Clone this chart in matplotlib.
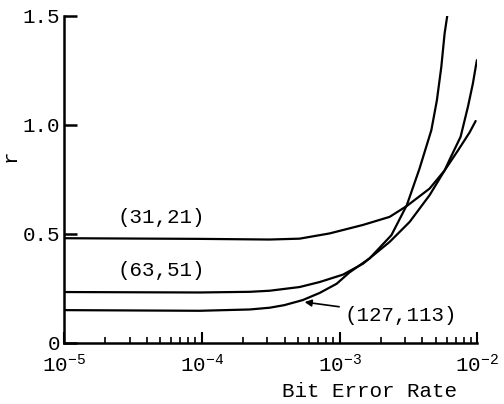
import numpy as np
import matplotlib
matplotlib.use('Agg')
import matplotlib.pyplot as plt

plt.rcParams['font.family'] = ['Liberation Mono', 'DejaVu Sans Mono']
plt.rcParams['mathtext.fontset'] = 'custom'
plt.rcParams['mathtext.rm'] = 'Liberation Mono'
plt.rcParams['mathtext.it'] = 'Liberation Mono'

# values (bit error rate, r)
ber_31 = [1.0e-5, 9.66e-5, 3.11e-4, 5.13e-4, 8.47e-4, 1.48e-3, 2.31e-3, 3.08e-3,
          4.51e-3, 5.79e-3, 7.21e-3, 8.80e-3, 9.73e-3]
r_31 = [0.479, 0.476, 0.473, 0.477, 0.501, 0.540, 0.577, 0.627,
        0.707, 0.790, 0.880, 0.965, 1.017]

ber_63 = [1.0e-5, 9.66e-5, 2.23e-4, 3.11e-4, 5.13e-4, 7.18e-4, 1.06e-3, 1.48e-3,
          2.31e-3, 3.23e-3, 4.51e-3, 5.79e-3, 6.30e-3, 7.57e-3, 8.55e-3, 9.29e-3, 9.93e-3]
r_63 = [0.232, 0.230, 0.233, 0.238, 0.255, 0.278, 0.312, 0.362,
        0.462, 0.554, 0.677, 0.790, 0.840, 0.945, 1.082, 1.189, 1.296]

ber_127 = [1.0e-5, 9.66e-5, 2.23e-4, 3.11e-4, 3.98e-4, 5.40e-4, 7.18e-4, 9.53e-4,
           1.18e-3, 1.65e-3, 2.38e-3, 3.08e-3, 3.81e-3, 4.64e-3, 5.09e-3, 5.48e-3,
           5.79e-3, 6.05e-3]
r_127 = [0.149, 0.146, 0.152, 0.160, 0.172, 0.195, 0.228, 0.270,
         0.322, 0.386, 0.493, 0.631, 0.799, 0.975, 1.112, 1.265,
         1.418, 1.499]

x_ticks = [1e-5, 1e-4, 1e-3, 1e-2]
x_labels = [r'$\mathregular{10^{-5}}$', r'$\mathregular{10^{-4}}$',
            r'$\mathregular{10^{-3}}$', r'$\mathregular{10^{-2}}$']
y_ticks = [0, 0.5, 1.0, 1.5]
y_labels = ['0', '0.5', '1.0', '1.5']

fig = plt.figure(figsize=(5.04, 4.04), dpi=100)
ax = fig.add_axes([0.127, 0.152, 0.820, 0.809])

for bx, ry in [(ber_31, r_31), (ber_63, r_63), (ber_127, r_127)]:
    ax.plot(bx, ry, color='black', linewidth=1.6, solid_capstyle='round',
            solid_joinstyle='round')

ax.set_xscale('log')
ax.set_xlim(1e-5, 1e-2)
ax.set_ylim(0, 1.5)

ax.set_xticks(x_ticks)
ax.set_xticklabels(x_labels, fontsize=15)
ax.set_xticks([m * 10.0**e for e in (-5, -4, -3) for m in range(2, 10)], minor=True)
ax.set_yticks(y_ticks)
ax.set_yticklabels(y_labels, fontsize=15)
ax.tick_params(axis='x', which='major', direction='in', length=8, width=1.5, pad=8)
ax.tick_params(axis='x', which='minor', direction='in', length=4, width=1.2)
ax.tick_params(axis='y', which='major', direction='in', length=9, width=1.8, pad=3)
ax.tick_params(axis='y', which='minor', left=False)

for side in ['top', 'right']:
    ax.spines[side].set_visible(False)
for side in ['left', 'bottom']:
    ax.spines[side].set_linewidth(1.8)

ax.text(5.1e-5, 0.576, '(31,21)', fontsize=15, ha='center', va='center')
ax.text(5.1e-5, 0.332, '(63,51)', fontsize=15, ha='center', va='center')
ax.annotate('(127,113)', xy=(5.58e-4, 0.186), xytext=(1.09e-3, 0.126),
            fontsize=15, ha='left', va='center',
            arrowprops=dict(arrowstyle='-|>', color='black', lw=1.2,
                            mutation_scale=10, shrinkA=2, shrinkB=0))

ax.text(0.739, -0.151, 'Bit Error Rate', transform=ax.transAxes,
        fontsize=15, ha='center', va='center')
ax.text(-0.131, 0.573, 'r', transform=ax.transAxes, fontsize=15,
        ha='center', va='center', rotation=90)

fig.savefig('out.png', dpi=100)
